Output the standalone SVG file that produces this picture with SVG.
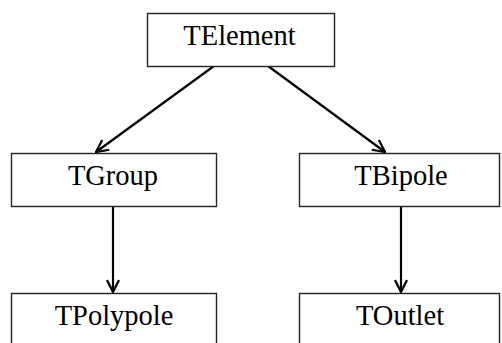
<svg xmlns="http://www.w3.org/2000/svg" width="502" height="343" viewBox="0 0 502 343">
<defs>
<marker id="arr" viewBox="0 0 14 14" refX="13" refY="7" markerWidth="14" markerHeight="14" markerUnits="userSpaceOnUse" orient="auto">
<path d="M1,1 L13,7 L1,13" fill="none" stroke="#000" stroke-width="2.2"/>
</marker>
<style>
.box{fill:#fff;stroke:#222;stroke-width:1.4}
.lbl{font-family:"Liberation Serif","Times New Roman",serif;font-size:28.5px;fill:#000;text-anchor:middle}
.con{stroke:#000;stroke-width:2.2;fill:none;marker-end:url(#arr)}
</style>
</defs>
<rect width="502" height="343" fill="#fff"/>
<g id="connectors">
<line class="con" x1="214" y1="66" x2="96" y2="152"/>
<line class="con" x1="268" y1="66" x2="385" y2="152"/>
<line class="con" x1="113" y1="206" x2="113" y2="292"/>
<line class="con" x1="401" y1="206" x2="401" y2="292"/>
</g>
<g id="TElement">
<rect class="box" x="147.5" y="13.5" width="187" height="53"/>
<text class="lbl" x="239.5" y="45">TElement</text>
</g>
<g id="TGroup">
<rect class="box" x="11.5" y="153.5" width="205" height="53"/>
<text class="lbl" x="113" y="185">TGroup</text>
</g>
<g id="TBipole">
<rect class="box" x="299.5" y="153.5" width="200" height="53"/>
<text class="lbl" x="401" y="185">TBipole</text>
</g>
<g id="TPolypole">
<rect class="box" x="11.5" y="293.5" width="205" height="60"/>
<text class="lbl" x="114" y="325">TPolypole</text>
</g>
<g id="TOutlet">
<rect class="box" x="299.5" y="293.5" width="200" height="60"/>
<text class="lbl" x="400" y="325">TOutlet</text>
</g>
</svg>
